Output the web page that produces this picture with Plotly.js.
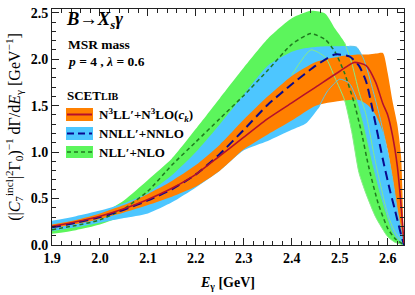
<!DOCTYPE html>
<html>
<head>
<meta charset="utf-8">
<script src="https://cdn.plot.ly/plotly-3.0.1.min.js"></script>
<style>html,body{margin:0;padding:0;background:#fff;}#chart{width:415px;height:295px;}</style>
</head>
<body>
<div id="chart"></div>
<script>
// ---- data ----
// NLL'+NLO band and central curve
const nllBandX  = [1.90,1.95,2.00,2.05,2.10,2.15,2.20,2.25,2.30,2.35,2.40,2.44,2.47,2.49,2.51,2.525,2.54,2.555,2.575,2.60,2.615,2.634];
const nllBandHi = [0.20,0.26,0.33,0.48,0.70,0.93,1.25,1.58,1.91,2.22,2.44,2.52,2.49,2.33,2.18,1.96,1.65,1.40,0.88,0.33,0.14,0.00];
const nllBandLo = [0.12,0.16,0.22,0.32,0.45,0.62,0.84,1.08,1.30,1.55,1.83,2.10,2.02,1.80,1.56,1.22,0.78,0.55,0.30,0.09,0.03,0.00];
const nllX = [1.90,1.95,2.00,2.05,2.10,2.15,2.20,2.25,2.30,2.35,2.40,2.44,2.47,2.49,2.51,2.53,2.545,2.56,2.58,2.60,2.615,2.634];
const nllY = [0.165,0.21,0.27,0.39,0.58,0.86,1.11,1.36,1.61,1.88,2.16,2.275,2.21,2.08,1.85,1.53,1.22,0.85,0.45,0.18,0.07,0.00];

// NNLL'+NNLO band and central curve
const nnllBandX  = [1.90,1.95,2.00,2.05,2.10,2.15,2.20,2.25,2.30,2.35,2.40,2.43,2.455,2.475,2.50,2.52,2.535,2.55,2.57,2.585,2.60,2.61,2.62,2.634];
const nnllBandHi = [0.26,0.31,0.37,0.45,0.56,0.75,1.00,1.30,1.62,1.93,2.08,2.12,2.135,2.14,2.14,2.14,2.13,2.00,1.65,1.35,1.00,0.72,0.38,0.00];
const nnllBandLo = [0.15,0.19,0.24,0.29,0.34,0.46,0.62,0.80,1.02,1.12,1.24,1.31,1.47,1.66,1.785,1.74,1.58,1.30,0.85,0.55,0.30,0.15,0.07,0.00];
const nnllX = [1.90,1.95,2.00,2.05,2.10,2.15,2.20,2.25,2.30,2.35,2.40,2.45,2.49,2.52,2.54,2.555,2.57,2.59,2.605,2.615,2.625,2.634];
const nnllY = [0.19,0.24,0.30,0.38,0.48,0.60,0.76,0.98,1.24,1.51,1.73,1.93,2.05,2.03,1.93,1.76,1.42,0.92,0.58,0.38,0.17,0.00];

// N3LL'+N3LO(c_k) band and central curve
const n3llBandX  = [1.90,1.95,2.00,2.05,2.10,2.15,2.20,2.25,2.30,2.35,2.40,2.45,2.50,2.54,2.56,2.575,2.59,2.60,2.61,2.62,2.628,2.634];
const n3llBandHi = [0.22,0.27,0.34,0.43,0.55,0.69,0.86,1.08,1.35,1.60,1.82,1.97,2.03,2.05,2.05,2.06,2.066,1.85,1.55,1.30,0.95,0.00];
const n3llBandLo = [0.18,0.225,0.28,0.35,0.43,0.52,0.63,0.80,1.03,1.19,1.34,1.50,1.55,1.56,1.50,1.40,1.22,1.02,0.72,0.38,0.15,0.00];
const n3llX = [1.90,1.95,2.00,2.05,2.10,2.15,2.20,2.25,2.30,2.35,2.40,2.45,2.50,2.53,2.555,2.575,2.59,2.60,2.61,2.62,2.628,2.634];
const n3llY = [0.20,0.25,0.31,0.39,0.49,0.61,0.76,0.96,1.16,1.36,1.53,1.70,1.87,1.965,1.93,1.75,1.52,1.40,1.18,0.85,0.42,0.02];

const seriesNames = ["N<sup>3</sup>LL′+N<sup>3</sup>LO(<i>c<sub>k</sub></i>)", "NNLL′+NNLO", "NLL′+NLO"];
const xRange = [1.9, 2.634];
const yRange = [0, 2.54];

// ---- styles ----
const C = {
  orange: '#ff8000', red: '#b5102c',
  blueBand: '#4dc6ff', blueLine: '#0a0a8e', blueThin: '#5ec3e6',
  greenBand: '#5cf55c', greenLine: '#1f7a1f', greenThin: '#86ec86'
};
const SERIF = 'Liberation Serif';

function band(x, lo, hi, color) {
  return {
    x: x.concat(x.slice().reverse()),
    y: hi.concat(lo.slice().reverse()),
    type: 'scatter', mode: 'lines', fill: 'toself', fillcolor: color,
    line: {width: 0, color: color, shape: 'spline', smoothing: 0.6},
    hoverinfo: 'skip', showlegend: false
  };
}
function thin(x, y, color, xmin) {
  const xs = [], ys = [];
  x.forEach((v, i) => { if (v >= xmin) { xs.push(v); ys.push(y[i]); } });
  return {x: xs, y: ys, type: 'scatter', mode: 'lines',
    line: {width: 1, color: color, shape: 'spline', smoothing: 0.6},
    hoverinfo: 'skip', showlegend: false};
}
function central(x, y, color, width, dash) {
  return {x: x, y: y, type: 'scatter', mode: 'lines',
    line: {width: width, color: color, dash: dash, shape: 'spline', smoothing: 0.6},
    hoverinfo: 'skip', showlegend: false};
}

const traces = [
  band(nllBandX, nllBandLo, nllBandHi, C.greenBand),
  band(nnllBandX, nnllBandLo, nnllBandHi, C.blueBand),
  band(n3llBandX, n3llBandLo, n3llBandHi, C.orange),
  thin(nllBandX, nllBandLo, C.greenThin, 2.37),
  thin(nllBandX, nllBandHi, C.greenThin, 2.50),
  thin(nnllBandX, nnllBandLo, C.blueThin, 2.44),
  thin(nnllBandX, nnllBandHi, C.blueThin, 2.52),
  central(nllX, nllY, C.greenLine, 1.5, '4px,3px'),
  central(nnllX, nnllY, C.blueLine, 2, '9px,5px'),
  central(n3llX, n3llY, C.red, 1.6, 'solid')
];

// legend drawn in paper coordinates
const px = v => (v - 52) / 352;
const py = v => (245 - v) / 236;
const legendRows = [
  {fill: C.orange, line: C.red, dash: 'solid', w: 2, top: 108, bot: 121},
  {fill: C.blueBand, line: C.blueLine, dash: '7px,4px', w: 2, top: 127, bot: 140},
  {fill: C.greenBand, line: C.greenLine, dash: '4px,3px', w: 1.5, top: 146, bot: 158}
];
const shapes = [];
const annotations = [];
legendRows.forEach((r, i) => {
  shapes.push({type: 'rect', xref: 'paper', yref: 'paper', x0: px(66), x1: px(93), y0: py(r.bot), y1: py(r.top),
    fillcolor: r.fill, line: {width: 0}, layer: 'above'});
  const ym = py((r.top + r.bot) / 2);
  shapes.push({type: 'line', xref: 'paper', yref: 'paper', x0: px(67), x1: px(92), y0: ym, y1: ym,
    line: {color: r.line, width: r.w, dash: r.dash}, layer: 'above'});
  annotations.push({xref: 'paper', yref: 'paper', x: px(97), y: ym, xanchor: 'left', yanchor: 'middle',
    text: '<b>' + seriesNames[i] + '</b>', showarrow: false, font: {family: SERIF, size: 13, color: '#000'}});
});
annotations.push(
  {xref: 'paper', yref: 'paper', x: px(64), y: py(21), xanchor: 'left', yanchor: 'middle', showarrow: false,
   text: '<b><i>B</i>→<i>X<sub>s</sub>γ</i></b>', font: {family: SERIF, size: 18.5, color: '#000'}},
  {xref: 'paper', yref: 'paper', x: px(66), y: py(44), xanchor: 'left', yanchor: 'middle', showarrow: false,
   text: '<b>MSR mass</b>', font: {family: SERIF, size: 13.5, color: '#000'}},
  {xref: 'paper', yref: 'paper', x: px(66), y: py(62), xanchor: 'left', yanchor: 'middle', showarrow: false,
   text: '<b><i>p</i> = 4 , <i>λ</i> = 0.6</b>', font: {family: SERIF, size: 13.5, color: '#000'}},
  {xref: 'paper', yref: 'paper', x: px(65), y: py(95), xanchor: 'left', yanchor: 'middle', showarrow: false,
   text: '<b>SCET<span style="font-size:10px">LIB</span></b>', font: {family: SERIF, size: 13, color: '#000'}}
);

const axisCommon = {
  ticks: 'inside', ticklen: 7, tickwidth: 1, tickcolor: '#222',
  showline: true, linecolor: '#222', linewidth: 1, mirror: 'allticks',
  showgrid: false, zeroline: false, fixedrange: true,
  tickfont: {family: SERIF, size: 14, color: '#000', weight: 'bold'},
  tickformat: '.1f'
};

const layout = {
  width: 415, height: 295,
  margin: {l: 52, r: 11, t: 9, b: 50},
  paper_bgcolor: '#fff', plot_bgcolor: '#fff',
  showlegend: false,
  font: {family: SERIF, size: 13, color: '#000'},
  xaxis: Object.assign({}, axisCommon, {
    range: xRange, tick0: 1.9, dtick: 0.1,
    minor: {dtick: 0.02, ticks: 'inside', ticklen: 4, tickwidth: 1, tickcolor: '#222'},
    title: {text: '<b><i>E</i><sub>γ</sub> [GeV]</b>', font: {family: SERIF, size: 14, color: '#000'}, standoff: 12}
  }),
  yaxis: Object.assign({}, axisCommon, {
    range: yRange, tick0: 0, dtick: 0.5,
    minor: {dtick: 0.1, ticks: 'inside', ticklen: 4, tickwidth: 1, tickcolor: '#222'},
    title: {text: '(|<i>C</i><sub>7</sub><sup>incl</sup>|<sup>2</sup>Γ<sub>0</sub>)<sup>−1</sup> dΓ/d<i>E</i><sub>γ</sub> [GeV<sup>−1</sup>]',
            font: {family: SERIF, size: 16, color: '#000'}, standoff: 6}
  }),
  shapes: shapes,
  annotations: annotations
};

Plotly.newPlot('chart', traces, layout, {displayModeBar: false});
</script>
</body>
</html>
